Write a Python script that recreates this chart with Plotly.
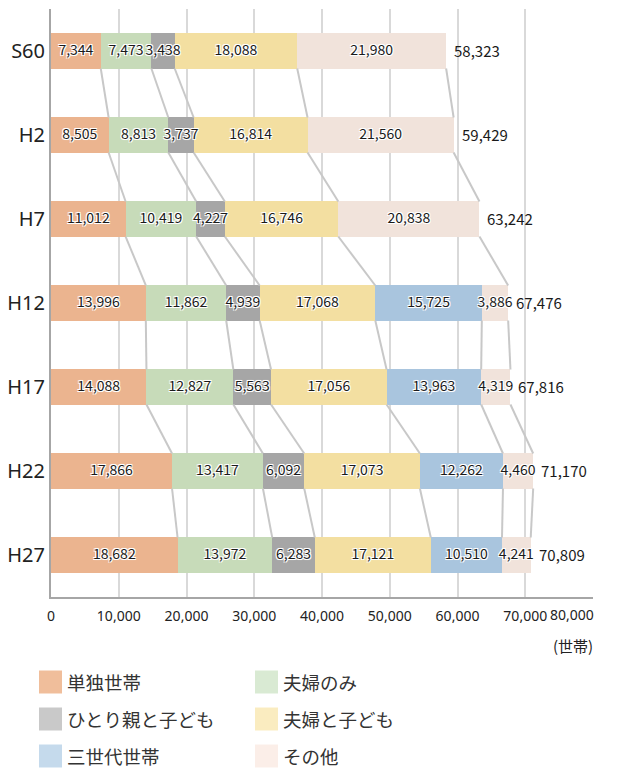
import plotly.graph_objects as go

categories = ["S60", "H2", "H7", "H12", "H17", "H22", "H27"]
series_names = ["単独世帯", "夫婦のみ", "ひとり親と子ども", "夫婦と子ども", "三世代世帯", "その他"]
tanshin = [7344, 8505, 11012, 13996, 14088, 17866, 18682]
fufu_nomi = [7473, 8813, 10419, 11862, 12827, 13417, 13972]
hitorioya = [3438, 3737, 4227, 4939, 5563, 6092, 6283]
fufu_kodomo = [18088, 16814, 16746, 17068, 17056, 17073, 17121]
sansedai = [None, None, None, 15725, 13963, 12262, 10510]
sonota = [21980, 21560, 20838, 3886, 4319, 4460, 4241]
totals = [58323, 59429, 63242, 67476, 67816, 71170, 70809]
x_ticks = [0, 10000, 20000, 30000, 40000, 50000, 60000, 70000, 80000]

series_values = [tanshin, fufu_nomi, hitorioya, fufu_kodomo, sansedai, sonota]
bar_colors = ["#EBB48F", "#C7DBB9", "#A6A6A6", "#F3DFA1", "#A9C5DE", "#F1E3DB"]
legend_colors = ["#F0BE9B", "#D9EAD3", "#C9C9C9", "#FAECC0", "#C5DAEC", "#FBEEE8"]

FONT = "Noto Sans, Noto Sans CJK JP, sans-serif"
NFONT = "Noto Sans CJK JP, sans-serif"
JFONT = "Noto Sans CJK JP, sans-serif"
BAR_W = 0.417
ypos = list(range(len(categories)))

# page body has an 8px margin: figure coordinates = window coordinates - 8
OFF = 8
W, H = 617 - OFF, 768 - OFF
ML, MR, MT, MB = 51 - OFF, 24, 9 - OFF, 171

fig = go.Figure()

# connector lines between bars
cx, cy = [], []
def cum_bounds(i):
    out = {}
    s = 0
    for k, vals in enumerate(series_values):
        v = vals[i]
        if v is not None:
            s += v
            out[k] = s
    return out

for i in range(len(categories) - 1):
    a = cum_bounds(i)
    b = cum_bounds(i + 1)
    for k in a:
        if k in b:
            cx += [a[k], b[k], None]
            cy += [i + BAR_W / 2, i + 1 - BAR_W / 2, None]

fig.add_trace(go.Scatter(x=cx, y=cy, mode="lines",
                         line=dict(color="#C8C8C8", width=2),
                         hoverinfo="skip", showlegend=False))

for name, vals, col in zip(series_names, series_values, bar_colors):
    fig.add_trace(go.Bar(
        y=ypos, x=[v if v is not None else 0 for v in vals],
        orientation="h", name=name, width=BAR_W,
        marker=dict(color=col, line=dict(width=0)),
        showlegend=False))

# labels inside segments
lx, ly, lt = [], [], []
for i in range(len(categories)):
    s = 0
    for vals in series_values:
        v = vals[i]
        if v is None:
            continue
        lx.append(s + v / 2)
        ly.append(i)
        lt.append(f"{v:,}")
        s += v

shadow = "-1px -1px 0 #fff, 1px -1px 0 #fff, -1px 1px 0 #fff, 1px 1px 0 #fff, 0 0 2px #fff"
fig.add_trace(go.Scatter(x=lx, y=ly, text=lt, mode="text",
                         textposition="middle center",
                         textfont=dict(family=NFONT, size=14, color="#1a1a1a", shadow=shadow),
                         hoverinfo="skip", showlegend=False))

for i, t in enumerate(totals):
    fig.add_annotation(x=t, y=i, text=f"{t:,}", xref="x", yref="y",
                       xanchor="left", yanchor="middle", xshift=6, yshift=1, showarrow=False,
                       font=dict(family=NFONT, size=15, color="#1a1a1a"))

tick_text = [f"{t:,}" for t in x_ticks]
tick_text[-1] = ""

fig.update_layout(
    width=W, height=H,
    margin=dict(l=ML, r=MR, t=MT, b=MB, autoexpand=False),
    barmode="stack",
    bargap=0,
    plot_bgcolor="white", paper_bgcolor="white",
    font=dict(family=FONT, color="#222222"),
    showlegend=False,
    xaxis=dict(range=[0, 80000], tickvals=x_ticks, ticktext=tick_text,
               showgrid=True, gridcolor="#D9D9D9", gridwidth=1.5,
               zeroline=False, showline=True, linecolor="#A6A6A6", linewidth=2,
               tickfont=dict(family=FONT, size=14, color="#222222"),
               ticks="outside", ticklen=5, tickcolor="rgba(0,0,0,0)",
               automargin=False),
    yaxis=dict(range=[6.5, -0.5], tickvals=ypos, ticktext=categories,
               showgrid=False, zeroline=False, showline=True,
               linecolor="#A6A6A6", linewidth=2,
               tickfont=dict(family=FONT, size=20, color="#222222"), ticks="", ticklen=0,
               automargin=False),
)

# last x tick label, kept inside the figure (right-aligned like the original)
fig.add_annotation(text=f"{x_ticks[-1]:,}", xref="x", yref="paper", x=x_ticks[-1], y=0,
                   xanchor="right", yanchor="top", yshift=-6, xshift=3, showarrow=False,
                   font=dict(family=FONT, size=14, color="#222222"))

# unit label
fig.add_annotation(text="(世帯)", xref="paper", yref="paper", x=1.0, y=-0.062,
                   xanchor="right", yanchor="top", xshift=2, showarrow=False,
                   font=dict(family=JFONT, size=15, color="#222222"))

# custom legend (positions in window pixels)
plot_h = H - MT - MB
plot_w = W - ML - MR
def px2paper_x(px):
    return (px - OFF - ML) / plot_w
def px2paper_y(py):
    return (H - MB - (py - OFF)) / plot_h

leg_pos = [(39, 682), (255, 682), (39, 719), (255, 719), (39, 756), (255, 756)]
for k, (bx, by) in enumerate(leg_pos):
    fig.add_shape(type="rect", xref="paper", yref="paper",
                  x0=px2paper_x(bx), x1=px2paper_x(bx + 23),
                  y0=px2paper_y(by + 11.5), y1=px2paper_y(by - 11.5),
                  fillcolor=legend_colors[k], line=dict(width=0))
    fig.add_annotation(text=series_names[k], xref="paper", yref="paper",
                       x=px2paper_x(bx + 26), y=px2paper_y(by),
                       xanchor="left", yanchor="middle", showarrow=False,
                       font=dict(family=JFONT, size=18.5, color="#333333"))

fig.write_html("out.html")
